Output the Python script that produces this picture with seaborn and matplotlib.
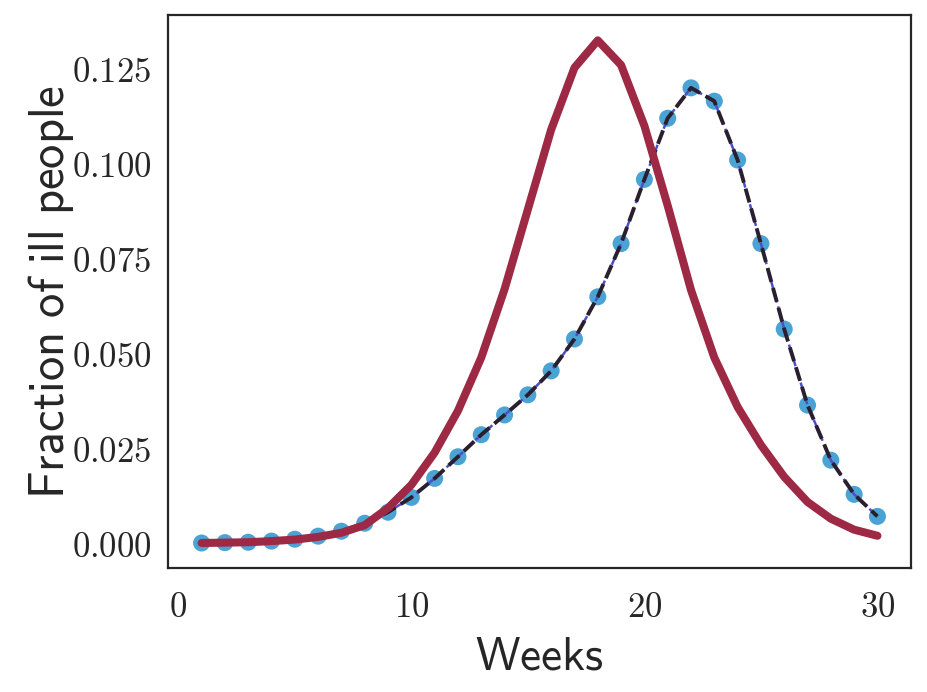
import numpy as np
import pandas as pd
import matplotlib
matplotlib.use("Agg")
import matplotlib.pyplot as plt
import seaborn as sns
from matplotlib.ticker import FuncFormatter, MultipleLocator

# Observed fraction of ill people per week (dots + dashed fit)
weeks = list(range(1, 31))
observed = [0.0002, 0.0003, 0.0004, 0.0007, 0.0012, 0.0020, 0.0033, 0.0054,
            0.0083, 0.0122, 0.0172, 0.0229, 0.0287, 0.0339, 0.0392, 0.0455,
            0.0539, 0.0650, 0.0790, 0.0959, 0.1120, 0.1200, 0.1165, 0.1010,
            0.0790, 0.0565, 0.0365, 0.0220, 0.0130, 0.0072]

# Model prediction (red curve)
model = [0.0002, 0.0003, 0.0004, 0.0007, 0.0011, 0.0018, 0.0029, 0.0049,
         0.0094, 0.0155, 0.0240, 0.0350, 0.0490, 0.0670, 0.0880, 0.1090,
         0.1253, 0.1325, 0.1260, 0.1100, 0.0890, 0.0668, 0.0490, 0.0360,
         0.0260, 0.0176, 0.0110, 0.0066, 0.0037, 0.0021]

df = pd.DataFrame({"week": weeks, "observed": observed, "model": model})

sns.set_style("white")
plt.rcParams["mathtext.fontset"] = "cm"

fig, ax = plt.subplots(figsize=(9.27, 6.92), dpi=100)
fig.subplots_adjust(left=0.181, right=0.983, top=0.978, bottom=0.179)

sns.scatterplot(data=df, x="week", y="observed", ax=ax, s=150,
                color="#4ba3d4", edgecolor="none", zorder=2)
# two dashed traces with different dash periods
sns.lineplot(data=df, x="week", y="observed", ax=ax, color="#4a4fc9",
             linewidth=1.8, zorder=3)
ax.get_lines()[-1].set_dashes((3.7, 1.6))
sns.lineplot(data=df, x="week", y="observed", ax=ax, color="#2a1f2e",
             linewidth=2.8, zorder=4)
ax.get_lines()[-1].set_dashes((3.7, 1.6))
sns.lineplot(data=df, x="week", y="model", ax=ax, color="#9d2944",
             linewidth=5.8, zorder=5)

ax.xaxis.set_major_locator(MultipleLocator(10))
ax.yaxis.set_major_locator(MultipleLocator(0.025))
ax.xaxis.set_major_formatter(FuncFormatter(lambda v, p: f"${v:.0f}$"))
ax.yaxis.set_major_formatter(FuncFormatter(lambda v, p: f"${v:.3f}$"))
ax.tick_params(labelsize=25, colors="#262626")
ax.tick_params(axis="x", pad=12)
ax.tick_params(axis="y", pad=8)

ax.set_xlabel(r"$\mathsf{Weeks}$", fontsize=34, color="#262626", labelpad=8)
ax.set_ylabel(r"$\mathsf{Fraction\ of\ ill\ people}$", fontsize=35,
              color="#262626", labelpad=-3)

for sp in ax.spines.values():
    sp.set_color("#262626")
    sp.set_linewidth(1.6)

fig.savefig("out.png", dpi=100)
